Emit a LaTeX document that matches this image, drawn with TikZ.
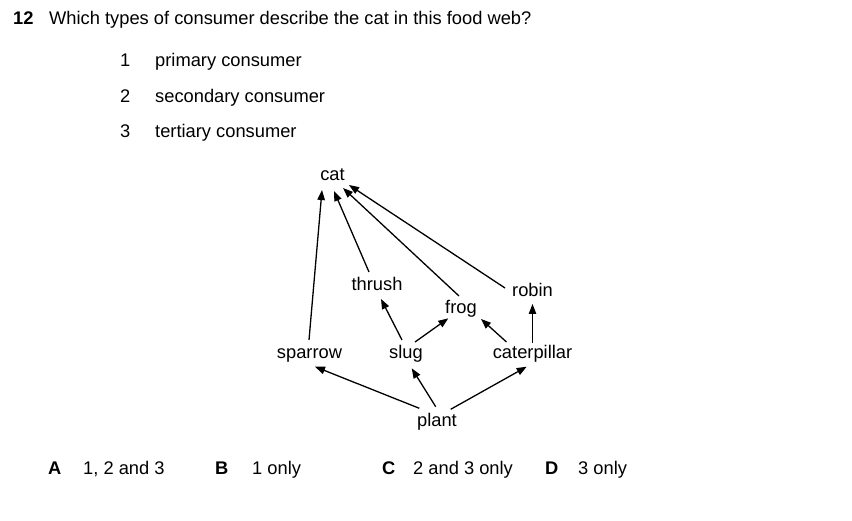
\documentclass[tikz,border=0pt]{standalone}
\usepackage{fontspec}
\setmainfont{Liberation Sans}
\usetikzlibrary{calc,arrows.meta}
\tikzset{
  txt/.style={inner sep=0pt, anchor=base west, font=\fontsize{18.3}{22}\selectfont},
  lbl/.style={inner sep=0pt, anchor=base, font=\fontsize{18.3}{22}\selectfont},
  arr/.style={line width=1.3pt, -{Triangle[length=10pt,width=7.5pt]}}
}
\begin{document}
\begin{tikzpicture}[x=1pt,y=-1pt]
\path[use as bounding box, fill=white] (0,0) rectangle (852,521);
% question
\node[txt, font=\fontsize{18.3}{22}\selectfont\bfseries] (qn) at (13,25) {12};
\node[txt] (q) at (49,25) {Which types of consumer describe the cat in this food web?};
\node[txt] (n1) at (120,67) {1};
\node[txt] (t1) at (155,67) {primary consumer};
\node[txt] (n2) at (120,103) {2};
\node[txt] (t2) at (155,103) {secondary consumer};
\node[txt] (n3) at (120,138) {3};
\node[txt] (t3) at (155,138) {tertiary consumer};
% food web
\node[lbl] (cat) at (332.5,181) {cat};
\node[lbl] (thrush) at (377,291) {thrush};
\node[lbl] (frog) at (461,314) {frog};
\node[lbl] (robin) at (532.5,297) {robin};
\node[lbl] (sparrow) at (309.5,359) {sparrow};
\node[lbl] (slug) at (406,359) {slug};
\node[lbl] (caterpillar) at (532.5,359) {caterpillar};
\node[lbl] (plant) at (437,427) {plant};
\draw[arr] ($(sparrow.base)+(-0.5,-19)$) -- ($(cat.base)+(-10.5,9)$);
\draw[arr] ($(thrush.base)+(-8,-19)$) -- ($(cat.base)+(1.5,10)$);
\draw[arr] ($(frog.base)+(-2,-18)$) -- ($(cat.base)+(10.5,7)$);
\draw[arr] ($(robin.base)+(-27.5,-9)$) -- ($(cat.base)+(16.5,4)$);
\draw[arr] ($(slug.base)+(-4,-19)$) -- ($(thrush.base)+(4,8)$);
\draw[arr] ($(slug.base)+(9,-17)$) -- ($(frog.base)+(-12.7,4.3)$);
\draw[arr] ($(caterpillar.base)+(-26,-17)$) -- ($(frog.base)+(20,5)$);
\draw[arr] ($(caterpillar.base)+(0,-16)$) -- ($(robin.base)+(0,7)$);
\draw[arr] ($(plant.base)+(-17.7,-18.7)$) -- ($(sparrow.base)+(5.5,7.7)$);
\draw[arr] ($(plant.base)+(-1.3,-20.3)$) -- ($(slug.base)+(5.7,9.3)$);
\draw[arr] ($(plant.base)+(13.7,-17.7)$) -- ($(caterpillar.base)+(-5.8,7.7)$);
% answers
\node[txt, font=\fontsize{18.3}{22}\selectfont\bfseries] (ka) at (48,475) {A};
\node[txt] (aa) at (83,475) {1, 2 and 3};
\node[txt, font=\fontsize{18.3}{22}\selectfont\bfseries] (kb) at (215,475) {B};
\node[txt] (ab) at (252,475) {1 only};
\node[txt, font=\fontsize{18.3}{22}\selectfont\bfseries] (kc) at (382,475) {C};
\node[txt] (ac) at (413,475) {2 and 3 only};
\node[txt, font=\fontsize{18.3}{22}\selectfont\bfseries] (kd) at (545,475) {D};
\node[txt] (ad) at (578,475) {3 only};
\end{tikzpicture}
\end{document}
